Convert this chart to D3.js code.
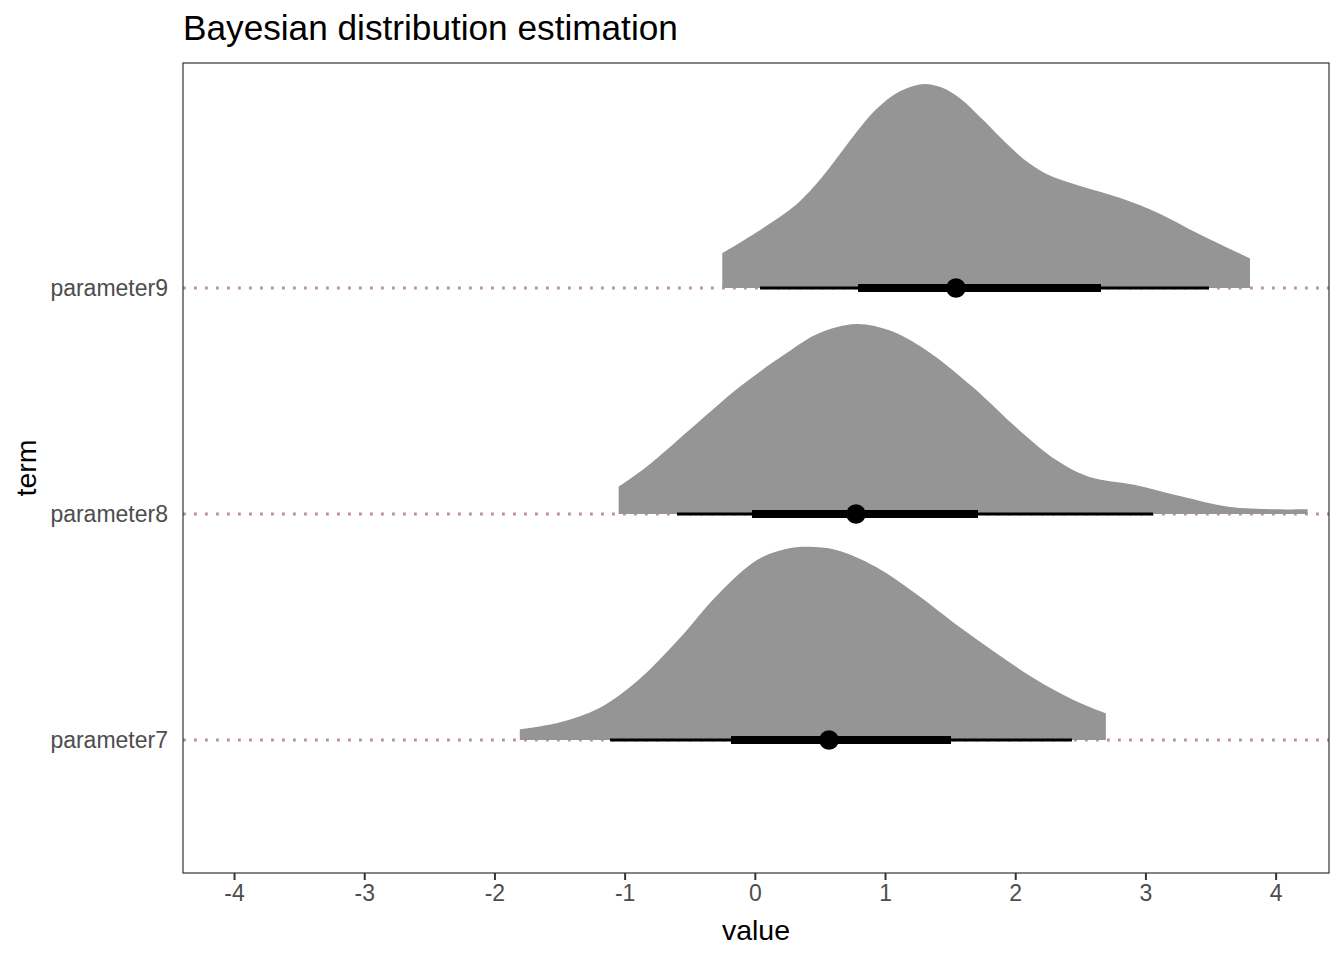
<!DOCTYPE html>
<html>
<head>
<meta charset="utf-8">
<script src="https://cdn.jsdelivr.net/npm/d3@7/dist/d3.min.js"></script>
<style>
  html, body { margin: 0; padding: 0; background: #fff; }
  svg text { font-family: "Liberation Sans", Arial, Helvetica, sans-serif; }
</style>
</head>
<body>
<svg id="chart" width="1344" height="960"></svg>
<script>
// ---- data ----
const terms = ["parameter7", "parameter8", "parameter9"];
const xTicks = [-4, -3, -2, -1, 0, 1, 2, 3, 4];

// density curves: value and scaled height (in category units)
const dens7x = [-1.805, -1.502, -1.197, -0.894, -0.590, -0.287, 0.017, 0.230, 0.412, 0.624, 0.928, 1.232, 1.535, 1.839, 2.143, 2.447, 2.696];
const dens7h = [0.047, 0.077, 0.140, 0.265, 0.442, 0.642, 0.796, 0.844, 0.855, 0.841, 0.767, 0.649, 0.516, 0.391, 0.273, 0.177, 0.118];

const dens8x = [-1.046, -0.831, -0.474, -0.116, 0.241, 0.492, 0.778, 1.028, 1.314, 1.671, 2.029, 2.315, 2.565, 2.923, 3.280, 3.638, 3.995, 4.246];
const dens8h = [0.121, 0.209, 0.386, 0.563, 0.711, 0.800, 0.841, 0.814, 0.726, 0.563, 0.372, 0.239, 0.165, 0.128, 0.077, 0.032, 0.021, 0.021];

const dens9x = [-0.250, 0.020, 0.314, 0.520, 0.755, 0.902, 1.049, 1.167, 1.299, 1.431, 1.578, 1.754, 1.931, 2.107, 2.283, 2.518, 2.813, 3.106, 3.400, 3.803];
const dens9h = [0.154, 0.249, 0.367, 0.493, 0.670, 0.773, 0.847, 0.884, 0.903, 0.888, 0.839, 0.743, 0.640, 0.552, 0.493, 0.448, 0.397, 0.330, 0.242, 0.131];

// point estimates and intervals (narrow = thick, wide = thin)
const pointEst = [0.570, 0.777, 1.545];
const innerLo = [-0.183, -0.022, 0.793];
const innerHi = [1.507, 1.714, 2.659];
const outerLo = [-1.112, -0.598, 0.040];
const outerHi = [2.436, 3.058, 3.488];

// ---- layout ----
const svg = d3.select("#chart");
const panel = { left: 183, right: 1329, top: 63, bottom: 873 };

const x = d3.scaleLinear().domain([-4.392, 4.41]).range([panel.left, panel.right]);
const y = d3.scaleLinear().domain([0.4115, 3.9956]).range([panel.bottom, panel.top]);
const catPos = d => terms.indexOf(d) + 1;

const densX = [dens7x, dens8x, dens9x];
const densH = [dens7h, dens8h, dens9h];

svg.append("defs").append("clipPath").attr("id", "clip")
  .append("rect").attr("x", panel.left).attr("y", panel.top)
  .attr("width", panel.right - panel.left).attr("height", panel.bottom - panel.top);

const g = svg.append("g").attr("clip-path", "url(#clip)");

// dotted reference lines
g.selectAll("line.ref").data(terms).join("line")
  .attr("class", "ref")
  .attr("x1", panel.left).attr("x2", panel.right)
  .attr("y1", d => y(catPos(d))).attr("y2", d => y(catPos(d)))
  .attr("stroke", "#bf8f98").attr("stroke-width", 2.8)
  .attr("stroke-dasharray", "2.8,8.2");

// densities
terms.forEach((t, i) => {
  const base = catPos(t);
  const pts = densX[i].map((v, j) => ({ v, h: densH[i][j] }));
  const area = d3.area()
    .x(d => x(d.v))
    .y0(() => y(base))
    .y1(d => y(base + d.h))
    .curve(d3.curveCatmullRom.alpha(0.5));
  g.append("path").datum(pts).attr("d", area).attr("fill", "#959595");
});

// intervals
g.selectAll("line.outer").data(terms).join("line")
  .attr("class", "outer")
  .attr("x1", (d, i) => x(outerLo[i])).attr("x2", (d, i) => x(outerHi[i]))
  .attr("y1", d => y(catPos(d))).attr("y2", d => y(catPos(d)))
  .attr("stroke", "#000").attr("stroke-width", 3);

g.selectAll("line.inner").data(terms).join("line")
  .attr("class", "inner")
  .attr("x1", (d, i) => x(innerLo[i])).attr("x2", (d, i) => x(innerHi[i]))
  .attr("y1", d => y(catPos(d))).attr("y2", d => y(catPos(d)))
  .attr("stroke", "#000").attr("stroke-width", 8);

g.selectAll("circle.pt").data(terms).join("circle")
  .attr("class", "pt")
  .attr("cx", (d, i) => x(pointEst[i])).attr("cy", d => y(catPos(d)))
  .attr("r", 9.8).attr("fill", "#000");

// panel border
svg.append("rect")
  .attr("x", panel.left).attr("y", panel.top)
  .attr("width", panel.right - panel.left).attr("height", panel.bottom - panel.top)
  .attr("fill", "none").attr("stroke", "#333333").attr("stroke-width", 1.2);

// x axis
const xAxis = svg.append("g").attr("transform", `translate(0,${panel.bottom})`)
  .call(d3.axisBottom(x).tickValues(xTicks).tickSize(7).tickPadding(5).tickFormat(d3.format("d")));
xAxis.select(".domain").remove();
xAxis.selectAll(".tick line").attr("stroke", "#333333").attr("stroke-width", 2);
xAxis.selectAll(".tick text").attr("fill", "#4d4d4d").attr("font-size", 23)
  .text(d => d < 0 ? "-" + Math.abs(d) : String(d));

// y axis labels (no ticks)
const yAxis = svg.append("g").attr("transform", `translate(${panel.left},0)`)
  .call(d3.axisLeft(d3.scalePoint().domain(terms).range([y(1), y(3)]))
    .tickSize(0).tickPadding(15));
yAxis.select(".domain").remove();
yAxis.selectAll(".tick text").attr("fill", "#4d4d4d").attr("font-size", 23);

// axis titles
svg.append("text").attr("x", (panel.left + panel.right) / 2).attr("y", 940)
  .attr("text-anchor", "middle").attr("font-size", 28.5).attr("fill", "#000").text("value");
svg.append("text").attr("transform", `translate(36,${(panel.top + panel.bottom) / 2}) rotate(-90)`)
  .attr("text-anchor", "middle").attr("font-size", 28.5).attr("fill", "#000").text("term");

// title
svg.append("text").attr("x", panel.left).attr("y", 40)
  .attr("font-size", 35.2).attr("fill", "#000").text("Bayesian distribution estimation");
</script>
</body>
</html>
